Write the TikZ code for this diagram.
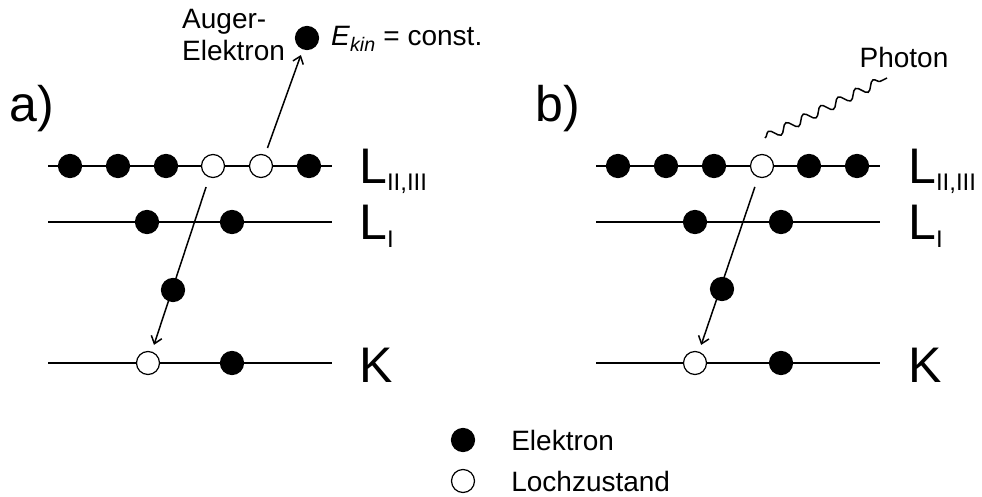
\documentclass[tikz,border=0pt]{standalone}
\usepackage{fontspec}
\setmainfont{Liberation Sans}
\usetikzlibrary{positioning,arrows.meta,decorations.pathmorphing}
\newcommand\shellidx[1]{\raisebox{-7pt}{\fontsize{24}{24}\selectfont#1}}

\begin{document}
\begin{tikzpicture}[x=1pt, y=-1pt,
  el/.style={circle, draw, fill=black, line width=1.2pt, minimum size=23pt, inner sep=0pt},
  hole/.style={el, fill=white},
  level/.style={line width=1.8pt},
  shell/.style={anchor=base west, inner sep=0pt, font=\fontsize{50}{50}\selectfont},
  lbl/.style={inner sep=0pt, font=\fontsize{28}{32}\selectfont},
  arr/.style={-{Straight Barb[length=7pt,width=11pt]}, line width=1.5pt},
  wave/.style={decorate, decoration={snake, segment length=19.4pt, amplitude=4.5pt}, line width=1.5pt}]
  \useasboundingbox (0,0) rectangle (982,497);
  \draw[level] (48,166) -- (332,166);
  \draw[level] (48,222) -- (332,222);
  \draw[level] (48,363) -- (332,363);
  \draw[level] (596,166) -- (880,166);
  \draw[level] (596,222) -- (880,222);
  \draw[level] (596,363) -- (880,363);
  \node[shell] (alabel) at (9,122) {a)};
  \node[shell] (blabel) at (535,122) {b)};
  \node[el] (a21) at (70,166) {};
  \node[el] (a22) at (118,166) {};
  \node[el] (a23) at (166,166) {};
  \node[hole] (a24) at (213,166) {};
  \node[hole] (a25) at (261,166) {};
  \node[el] (a26) at (309,166) {};
  \node[el] (a11) at (147,222) {};
  \node[el] (a12) at (232,222) {};
  \node[hole] (ak1) at (148,363) {};
  \node[el] (ak2) at (232,363) {};
  \node[el] (aug) at (307,38) {};
  \draw[arr, shorten <=10pt, shorten >=7pt] (a24) -- (ak1);
  \node[el] (am) at (173,290) {};
  \draw[arr, shorten <=7pt, shorten >=6pt] (a25) -- (aug);
  \node[lbl, anchor=west, align=left] (augtxt) at (182,35) {Auger-\\Elektron};
  \node[lbl, anchor=base west] (ekin) at (331,46) {\textit{E}\textsubscript{\textit{kin}} = const.};
  \node[shell] (ashell2) at (359,184) {L\shellidx{II,III}};
  \node[shell] (ashell1) at (359,240) {L\shellidx{I}};
  \node[shell] (ashellk) at (359,382) {K};
  \node[el] (b21) at (618,166) {};
  \node[el] (b22) at (666,166) {};
  \node[el] (b23) at (714,166) {};
  \node[hole] (b24) at (762,166) {};
  \node[el] (b25) at (809,166) {};
  \node[el] (b26) at (857,166) {};
  \node[el] (b11) at (695,222) {};
  \node[el] (b12) at (781,222) {};
  \node[hole] (bk1) at (695,363) {};
  \node[el] (bk2) at (781,363) {};
  \draw[arr, shorten <=10pt, shorten >=7pt] (b24) -- (bk1);
  \node[el] (bm) at (722,289) {};
  \coordinate (phs) at (765,138);
  \coordinate (phe) at (887,78);
  \draw[wave] (phs) -- (phe);
  \node[lbl] (photon) at (904,57) {Photon};
  \node[shell] (bshell2) at (908,184) {L\shellidx{II,III}};
  \node[shell] (bshell1) at (908,240) {L\shellidx{I}};
  \node[shell] (bshellk) at (908,382) {K};
  \node[el] (legel) at (463,440) {};
  \node[lbl, right=36pt of legel] (legeltxt) {Elektron};
  \node[hole] (leghole) at (463,481) {};
  \node[lbl, right=36pt of leghole] (legholetxt) {Lochzustand};
\end{tikzpicture}
\end{document}
